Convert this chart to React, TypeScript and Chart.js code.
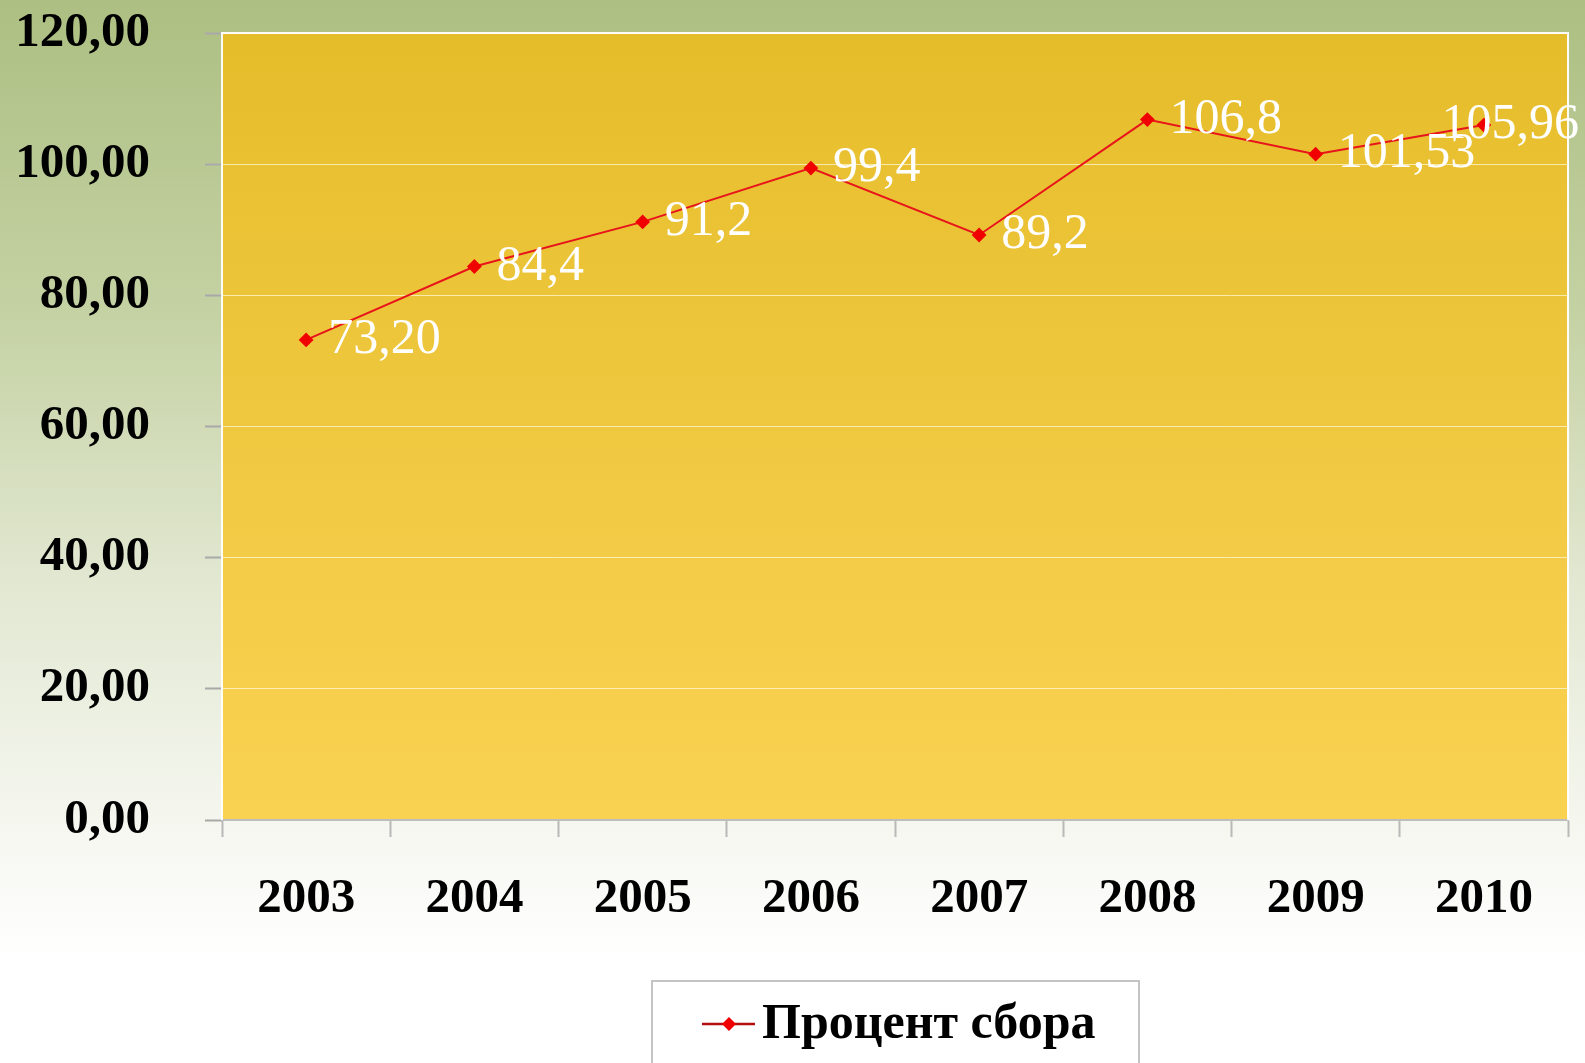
import React, { useEffect, useRef } from "react";
import { Chart, registerables } from "chart.js";

Chart.register(...registerables);

const categories = ["2003", "2004", "2005", "2006", "2007", "2008", "2009", "2010"];
const values = [73.2, 84.4, 91.2, 99.4, 89.2, 106.8, 101.53, 105.96];
const valueLabels = ["73,20", "84,4", "91,2", "99,4", "89,2", "106,8", "101,53", "105,96"];
const yMin = 0;
const yMax = 120;
const yStep = 20;
const seriesName = "Процент сбора";

const W = 1585;
const H = 1063;
const SERIF = '"Liberation Serif", "Times New Roman", serif';

const bgPlugin = {
  id: "bgPlugin",
  beforeDraw(chart: any) {
    const ctx = chart.ctx;
    const { left, top, right, bottom } = chart.chartArea;
    ctx.save();
    const g = ctx.createLinearGradient(0, 0, 0, H);
    g.addColorStop(0, "#adbf82");
    g.addColorStop(0.3, "#c5d2a4");
    g.addColorStop(0.55, "#e2e8d2");
    g.addColorStop(0.75, "#f3f5ec");
    g.addColorStop(0.9, "#ffffff");
    g.addColorStop(1, "#ffffff");
    ctx.fillStyle = g;
    ctx.fillRect(0, 0, W, H);
    const pg = ctx.createLinearGradient(0, top, 0, bottom);
    pg.addColorStop(0, "#e5bd2a");
    pg.addColorStop(0.5, "#f0c840");
    pg.addColorStop(1, "#fad252");
    ctx.fillStyle = pg;
    ctx.fillRect(left, top, right - left, bottom - top);
    ctx.restore();
  },
  beforeDatasetsDraw(chart: any) {
    const ctx = chart.ctx;
    const { left, top, right, bottom } = chart.chartArea;
    ctx.save();
    ctx.strokeStyle = "rgba(255,255,255,0.95)";
    ctx.lineWidth = 2;
    ctx.beginPath();
    ctx.moveTo(left, bottom);
    ctx.lineTo(left, top);
    ctx.lineTo(right, top);
    ctx.lineTo(right, bottom);
    ctx.stroke();
    ctx.restore();
  },
  afterDatasetsDraw(chart: any) {
    const ctx = chart.ctx;
    const meta = chart.getDatasetMeta(0);
    ctx.save();
    ctx.font = `50px ${SERIF}`;
    ctx.fillStyle = "#ffffff";
    ctx.textAlign = "left";
    ctx.textBaseline = "middle";
    meta.data.forEach((el: any, i: number) => {
      const txt = valueLabels[i];
      const w = ctx.measureText(txt).width;
      let x = el.x + 22;
      if (x + w > W - 6) x = W - 6 - w;
      ctx.fillText(txt, x, el.y);
    });
    ctx.restore();
  },
  afterDraw(chart: any) {
    const ctx = chart.ctx;
    ctx.save();
    // legend box
    ctx.fillStyle = "#ffffff";
    ctx.fillRect(652, 981, 487, 100);
    ctx.strokeStyle = "#c4c4c4";
    ctx.lineWidth = 2;
    ctx.strokeRect(652, 981, 487, 100);
    // legend marker
    ctx.strokeStyle = "#b30f0f";
    ctx.lineWidth = 2.5;
    ctx.beginPath();
    ctx.moveTo(702, 1024);
    ctx.lineTo(755, 1024);
    ctx.stroke();
    ctx.fillStyle = "#f00000";
    ctx.beginPath();
    ctx.moveTo(729, 1017);
    ctx.lineTo(736, 1024);
    ctx.lineTo(729, 1031);
    ctx.lineTo(722, 1024);
    ctx.closePath();
    ctx.fill();
    ctx.fillStyle = "#000000";
    ctx.font = `bold 50px ${SERIF}`;
    ctx.textAlign = "left";
    ctx.textBaseline = "alphabetic";
    ctx.fillText(seriesName, 762, 1038);
    ctx.restore();
  },
};

export default function App() {
  const ref = useRef<HTMLCanvasElement | null>(null);
  useEffect(() => {
    if (!ref.current) return;
    const chart = new Chart(ref.current, {
      type: "line",
      data: {
        labels: categories,
        datasets: [
          {
            label: seriesName,
            data: values,
            borderColor: "#e8141b",
            backgroundColor: "#f00000",
            borderWidth: 2,
            pointStyle: "rectRot",
            pointRadius: 6,
            pointBackgroundColor: "#f00000",
            pointBorderColor: "#f00000",
            tension: 0,
          },
        ],
      },
      options: {
        responsive: false,
        animation: false,
        layout: { padding: { left: 0, top: 33, right: 17, bottom: 0 } },
        plugins: {
          legend: { display: false },
          tooltip: { enabled: false },
        },
        scales: {
          x: {
            offset: true,
            afterFit: (s: any) => {
              s.height = 243;
              s.paddingLeft = 0;
              s.paddingRight = 0;
            },
            grid: {
              offset: true,
              drawOnChartArea: false,
              drawTicks: true,
              tickLength: 17,
              tickColor: "#b9b9b9",
              tickWidth: 2,
            },
            border: { display: true, color: "#bdbdbd", width: 2 },
            ticks: {
              color: "#000000",
              font: { family: SERIF, size: 49, weight: "bold" },
              padding: 33,
              maxRotation: 0,
            },
          },
          y: {
            min: yMin,
            max: yMax,
            afterFit: (s: any) => {
              s.width = 222;
              s.paddingTop = 0;
              s.paddingBottom = 0;
            },
            grid: {
              color: "rgba(255,248,215,0.75)",
              lineWidth: 1,
              drawTicks: true,
              tickLength: 17,
              tickColor: "#a9a9a9",
              tickWidth: 2,
            },
            border: { display: false },
            ticks: {
              stepSize: yStep,
              color: "#000000",
              padding: 55,
              font: { family: SERIF, size: 49, weight: "bold" },
              callback: (v: any) => Number(v).toFixed(2).replace(".", ","),
            },
          },
        },
      },
      plugins: [bgPlugin],
    });
    return () => chart.destroy();
  }, []);
  return (
    <div style={{ position: "fixed", left: 0, top: 0, width: W, height: H }}>
      <canvas ref={ref} width={W} height={H} style={{ display: "block" }} />
    </div>
  );
}
